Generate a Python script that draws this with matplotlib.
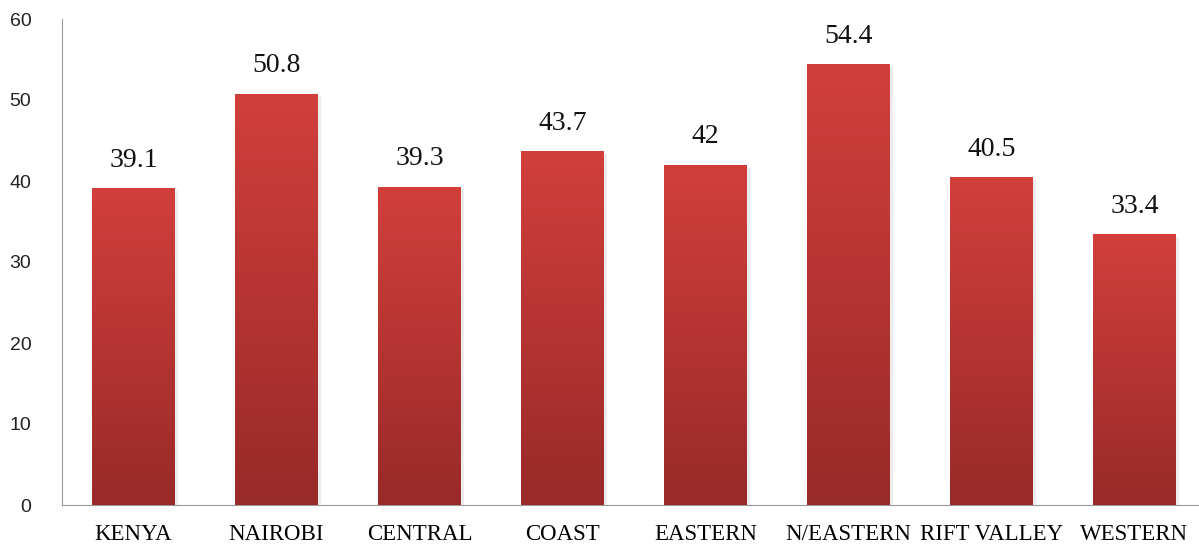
import numpy as np
import matplotlib.pyplot as plt
from matplotlib.colors import LinearSegmentedColormap
import matplotlib.patheffects as pe

# regional values
regions = ["KENYA", "NAIROBI", "CENTRAL", "COAST", "EASTERN", "N/EASTERN", "RIFT VALLEY", "WESTERN"]
values = [39.1, 50.8, 39.3, 43.7, 42, 54.4, 40.5, 33.4]
value_labels = ["39.1", "50.8", "39.3", "43.7", "42", "54.4", "40.5", "33.4"]

fig = plt.figure(figsize=(11.99, 5.5), dpi=100)
ax = fig.add_axes([62 / 1199, 45 / 550, 1144 / 1199, 486 / 550])

x = np.arange(len(regions))
bars = ax.bar(x, values, width=0.58, color='#c03a36', zorder=2,
              path_effects=[pe.SimplePatchShadow(offset=(2, -2), alpha=0.15, shadow_rgbFace='gray'),
                            pe.Normal()])

# vertical red gradient inside every bar
grad = LinearSegmentedColormap.from_list('redgrad', ['#982a29', '#d23f3b'], N=1024)
for b in bars:
    x0, y0 = b.get_x(), b.get_y()
    w, h = b.get_width(), b.get_height()
    img = ax.imshow(np.linspace(0, 1, 1024).reshape(-1, 1), cmap=grad, origin='lower',
                    extent=[x0, x0 + w, y0, y0 + h], aspect='auto', zorder=3,
                    interpolation='bilinear')
    img.set_clip_path(b)

for xi, v, s in zip(x, values, value_labels):
    ax.text(xi, v + 1.9, s, ha='center', va='bottom', fontsize=20,
            family='Liberation Serif', color='#111111')

ax.set_xlim(-0.5, len(regions) - 0.5)
ax.set_ylim(0, 60)
ax.set_yticks(range(0, 61, 10))
ax.set_xticks(x)
ax.set_xticklabels(regions, family='Liberation Serif', fontsize=16.5)
ax.tick_params(axis='y', length=0, pad=22, labelsize=14, labelcolor='#222222')
ax.tick_params(axis='x', length=0, pad=14)
for lbl in ax.get_yticklabels():
    lbl.set_family('Liberation Sans')

for side in ['top', 'right']:
    ax.spines[side].set_visible(False)
ax.spines['left'].set_color('#999999')
ax.spines['bottom'].set_color('#999999')

fig.savefig('out.png', dpi=100)
